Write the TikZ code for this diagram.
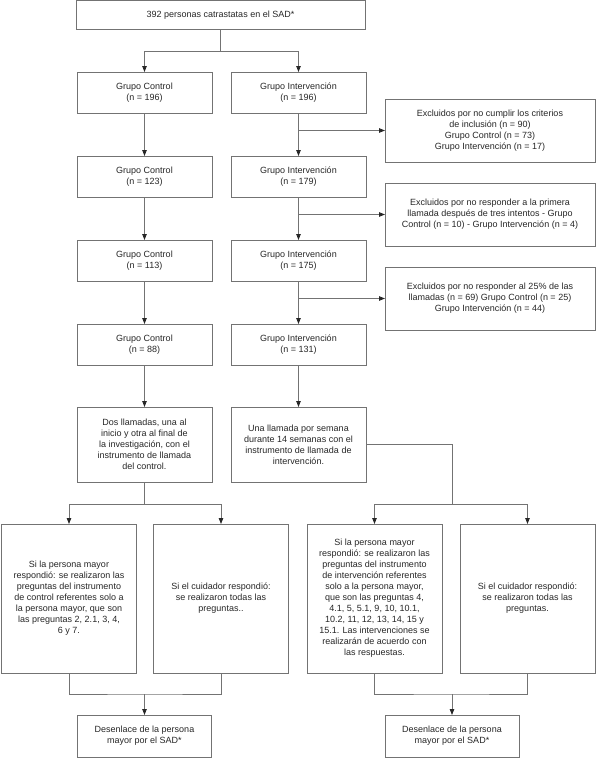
\documentclass[tikz,border=0pt]{standalone}
\usepackage{fontspec}
\setmainfont{Liberation Sans}
\usepackage{tikz}
\usetikzlibrary{positioning, arrows.meta}

\begin{document}
\begin{tikzpicture}[x=1pt, y=-1pt, node distance=43pt and 19pt, font=\fontsize{9}{11}\selectfont]
    % Define styles
    \tikzstyle{block} = [rectangle, draw=black!55, line width=0.8pt, text=black!85,
        align=center, inner sep=0pt, outer sep=0pt, minimum width=135pt, minimum height=41pt]
    \tikzstyle{excl} = [block, minimum width=210pt, minimum height=63pt]
    \tikzstyle{answer} = [block, minimum width=135pt, minimum height=149pt]
    \tikzstyle{wire} = [draw=black!55, line width=0.8pt]
    \tikzstyle{line} = [wire, -{Triangle[length=6pt, width=4.5pt, color=black!85]}]

    \useasboundingbox (0,0) rectangle (596,758);

    % Place nodes
    \node [block, minimum width=289pt, minimum height=29pt] at (220.5,15) (top) {392 personas catrastatas en el SAD*};

    \node [block] at (144.5,92.5) (control1) {Grupo Control\\(n = 196)};
    \node [block, right=of control1] (inter1) {Grupo Intervención\\(n = 196)};
    \node [block, below=of control1] (control2) {Grupo Control\\(n = 123)};
    \node [block, below=of inter1] (inter2) {Grupo Intervención\\(n = 179)};
    \node [block, below=of control2] (control3) {Grupo Control\\(n = 113)};
    \node [block, below=of inter2] (inter3) {Grupo Intervención\\(n = 175)};
    \node [block, below=of control3] (control4) {Grupo Control\\(n = 88)};
    \node [block, below=of inter3] (inter4) {Grupo Intervención\\(n = 131)};

    % Exclusions
    \node [excl] at (490,130.5) (excl1) {Excluidos por no cumplir los criterios\\de inclusión (n = 90)\\Grupo Control (n = 73)\\Grupo Intervención (n = 17)};
    \node [excl, below=21pt of excl1] (excl2) {Excluidos por no responder a la primera\\llamada después de tres intentos - Grupo\\Control (n = 10) - Grupo Intervención (n = 4)};
    \node [excl, below=21pt of excl2] (excl3) {Excluidos por no responder al 25\% de las\\llamadas (n = 69) Grupo Control (n = 25)\\Grupo Intervención (n = 44)};

    % Calls
    \node [block, minimum height=75pt, below=42pt of control4] (callc) {Dos llamadas, una al\\inicio y otra al final de\\la investigación, con el\\instrumento de llamada\\del control.};
    \node [block, minimum height=75pt, below=42pt of inter4] (calli) {Una llamada por semana\\durante 14 semanas con el\\instrumento de llamada de\\intervención.};

    % Answers
    \node [answer] at (69,598.5) (respA) {Si la persona mayor\\respondió: se realizaron las\\preguntas del instrumento\\de control referentes solo a\\la persona mayor, que son\\las preguntas 2, 2.1, 3, 4,\\6 y 7.};
    \node [answer, right=17pt of respA] (cuidB) {Si el cuidador respondió:\\se realizaron todas las\\preguntas..};
    \node [answer] at (374.5,598.5) (respC) {Si la persona mayor\\respondió: se realizaron las\\preguntas del instrumento\\de intervención referentes\\solo a la persona mayor,\\que son las preguntas 4,\\4.1, 5, 5.1, 9, 10, 10.1,\\10.2, 11, 12, 13, 14, 15 y\\15.1. Las intervenciones se\\realizarán de acuerdo con\\las respuestas.};
    \node [answer, right=18pt of respC] (cuidD) {Si el cuidador respondió:\\se realizaron todas las\\preguntas.};

    % Outcomes
    \node [block, minimum width=134pt, minimum height=42pt] at (144.5,736) (finc) {Desenlace de la persona\\mayor por el SAD*};
    \node [block, minimum width=134pt, minimum height=42pt] at (452,736) (fini) {Desenlace de la persona\\mayor por el SAD*};

    % Junction points
    \coordinate [below=22pt of top] (split0);
    \coordinate [below=22pt of callc] (splitc);
    \coordinate (spliti) at (fini |- splitc);
    \coordinate [above=21pt of finc] (joinc);
    \coordinate [above=21pt of fini] (joini);

    % Draw edges
    \path [wire] (top) -- (split0);
    \path [line] (split0) -| (control1);
    \path [line] (split0) -| (inter1);

    \path [line] (control1) -- (control2);
    \path [line] (control2) -- (control3);
    \path [line] (control3) -- (control4);
    \path [line] (control4) -- (callc);

    \path [line] (inter1) -- (inter2);
    \path [line] (inter2) -- (inter3);
    \path [line] (inter3) -- (inter4);
    \path [line] (inter4) -- (calli);

    \path [line] (inter1.south |- excl1.west) -- (excl1.west);
    \path [line] (inter2.south |- excl2.west) -- (excl2.west);
    \path [line] (inter3.south |- excl3.west) -- (excl3.west);

    \path [wire] (callc) -- (splitc);
    \path [line] (splitc) -| (respA);
    \path [line] (splitc) -| (cuidB);

    \path [wire] (calli.east) -| (spliti);
    \path [line] (spliti) -| (respC);
    \path [line] (spliti) -| (cuidD);

    \path [wire] (respA.south) |- (joinc) -| (cuidB.south);
    \path [line] (joinc) -- (finc);
    \path [wire] (respC.south) |- (joini) -| (cuidD.south);
    \path [line] (joini) -- (fini);
\end{tikzpicture}
\end{document}
